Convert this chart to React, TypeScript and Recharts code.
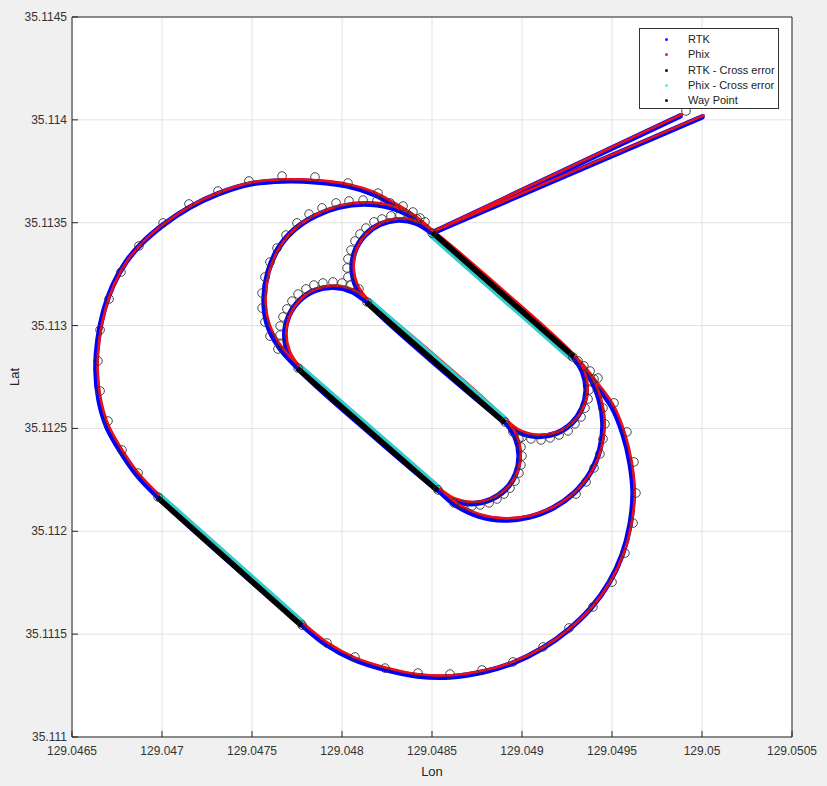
import React from 'react';
import { ComposedChart, Line, Scatter, XAxis, YAxis, CartesianGrid, ReferenceLine, Legend } from 'recharts';

const xTicks = [129.0465, 129.047, 129.0475, 129.048, 129.0485, 129.049, 129.0495, 129.05, 129.0505];
const xTickLabels = ['129.0465', '129.047', '129.0475', '129.048', '129.0485', '129.049', '129.0495', '129.05', '129.0505'];
const yTicks = [35.111, 35.1115, 35.112, 35.1125, 35.113, 35.1135, 35.114, 35.1145];
const yTickLabels = ['35.111', '35.1115', '35.112', '35.1125', '35.113', '35.1135', '35.114', '35.1145'];

type P = [number, number];

// RTK track: inbound leg, the looping run, outbound leg
const rtkEntry: P[] = [[129.050000, 35.114014], [129.048500, 35.113450]];
const rtkLoop: P[] = [
  [129.048500, 35.113450], [129.049283, 35.112847], [129.049338, 35.112772],
  [129.049356, 35.112684], [129.049333, 35.112597], [129.049275, 35.112524], [129.049189, 35.112476],
  [129.049088, 35.112461], [129.048989, 35.112480], [129.048906, 35.112531], [129.048139, 35.113115],
  [129.048079, 35.113188], [129.048056, 35.113276], [129.048073, 35.113364], [129.048128, 35.113440],
  [129.048212, 35.113492], [129.048312, 35.113513], [129.048413, 35.113498], [129.048500, 35.113450],
  [129.049283, 35.112847], [129.049372, 35.112755], [129.049428, 35.112643], [129.049450, 35.112522],
  [129.049433, 35.112400], [129.049378, 35.112283], [129.049289, 35.112186], [129.049172, 35.112113],
  [129.049039, 35.112069], [129.048900, 35.112055], [129.048761, 35.112074], [129.048639, 35.112123],
  [129.048533, 35.112201], [129.047756, 35.112794], [129.047700, 35.112870], [129.047682, 35.112960],
  [129.047705, 35.113048], [129.047764, 35.113122], [129.047851, 35.113171], [129.047953, 35.113186],
  [129.048054, 35.113166], [129.048139, 35.113115], [129.048906, 35.112531], [129.048963, 35.112456],
  [129.048984, 35.112367], [129.048965, 35.112279], [129.048908, 35.112203], [129.048823, 35.112153],
  [129.048721, 35.112134], [129.048620, 35.112151], [129.048533, 35.112201], [129.047756, 35.112794],
  [129.047650, 35.112896], [129.047583, 35.113013], [129.047567, 35.113134], [129.047589, 35.113260],
  [129.047644, 35.113372], [129.047733, 35.113465], [129.047850, 35.113533], [129.047983, 35.113576],
  [129.048122, 35.113591], [129.048261, 35.113576], [129.048389, 35.113528], [129.048500, 35.113450],
  [129.049283, 35.112847], [129.049356, 35.112774], [129.049422, 35.112701], [129.049500, 35.112604],
  [129.049561, 35.112473], [129.049600, 35.112332], [129.049617, 35.112186], [129.049600, 35.112031],
  [129.049556, 35.111885], [129.049483, 35.111749], [129.049383, 35.111627], [129.049256, 35.111520],
  [129.049117, 35.111433], [129.048950, 35.111360], [129.048783, 35.111316], [129.048600, 35.111292],
  [129.048417, 35.111297], [129.048228, 35.111331], [129.048061, 35.111379], [129.047917, 35.111447],
  [129.047778, 35.111544], [129.046978, 35.112167], [129.046861, 35.112274], [129.046772, 35.112385],
  [129.046694, 35.112507], [129.046650, 35.112638], [129.046633, 35.112784], [129.046644, 35.112930],
  [129.046678, 35.113076], [129.046728, 35.113197], [129.046800, 35.113309], [129.046889, 35.113401],
  [129.047006, 35.113489], [129.047156, 35.113576], [129.047311, 35.113640], [129.047489, 35.113688],
  [129.047672, 35.113703], [129.047861, 35.113698], [129.048028, 35.113679], [129.048172, 35.113640],
  [129.048278, 35.113591], [129.048378, 35.113538], [129.048444, 35.113494], [129.048500, 35.113450],
];
const rtkExit: P[] = [[129.048500, 35.113450], [129.049878, 35.114019]];

// Phix track: same three parts
const phixEntry: P[] = [[129.050009, 35.114022], [129.048509, 35.113458]];
const phixLoop: P[] = [
  [129.048509, 35.113458], [129.049292, 35.112855], [129.049347, 35.112780],
  [129.049365, 35.112692], [129.049342, 35.112605], [129.049284, 35.112532], [129.049198, 35.112484],
  [129.049097, 35.112469], [129.048998, 35.112488], [129.048915, 35.112539], [129.048148, 35.113123],
  [129.048088, 35.113196], [129.048065, 35.113284], [129.048082, 35.113372], [129.048137, 35.113448],
  [129.048221, 35.113500], [129.048321, 35.113521], [129.048422, 35.113506], [129.048509, 35.113458],
  [129.049292, 35.112855], [129.049381, 35.112763], [129.049437, 35.112651], [129.049459, 35.112530],
  [129.049442, 35.112408], [129.049387, 35.112291], [129.049298, 35.112194], [129.049181, 35.112121],
  [129.049048, 35.112077], [129.048909, 35.112063], [129.048770, 35.112082], [129.048648, 35.112131],
  [129.048542, 35.112209], [129.047765, 35.112802], [129.047709, 35.112878], [129.047691, 35.112968],
  [129.047714, 35.113056], [129.047773, 35.113130], [129.047860, 35.113179], [129.047962, 35.113194],
  [129.048063, 35.113174], [129.048148, 35.113123], [129.048915, 35.112539], [129.048972, 35.112464],
  [129.048993, 35.112375], [129.048974, 35.112287], [129.048917, 35.112211], [129.048832, 35.112161],
  [129.048730, 35.112142], [129.048629, 35.112159], [129.048542, 35.112209], [129.047765, 35.112802],
  [129.047659, 35.112904], [129.047592, 35.113021], [129.047576, 35.113142], [129.047598, 35.113268],
  [129.047653, 35.113380], [129.047742, 35.113473], [129.047859, 35.113541], [129.047992, 35.113584],
  [129.048131, 35.113599], [129.048270, 35.113584], [129.048398, 35.113536], [129.048509, 35.113458],
  [129.049292, 35.112855], [129.049365, 35.112782], [129.049431, 35.112709], [129.049509, 35.112612],
  [129.049570, 35.112481], [129.049609, 35.112340], [129.049626, 35.112194], [129.049609, 35.112039],
  [129.049565, 35.111893], [129.049492, 35.111757], [129.049392, 35.111635], [129.049265, 35.111528],
  [129.049126, 35.111441], [129.048959, 35.111368], [129.048792, 35.111324], [129.048609, 35.111300],
  [129.048426, 35.111305], [129.048237, 35.111339], [129.048070, 35.111387], [129.047926, 35.111455],
  [129.047787, 35.111552], [129.046987, 35.112175], [129.046870, 35.112282], [129.046781, 35.112393],
  [129.046703, 35.112515], [129.046659, 35.112646], [129.046642, 35.112792], [129.046653, 35.112938],
  [129.046687, 35.113084], [129.046737, 35.113205], [129.046809, 35.113317], [129.046898, 35.113409],
  [129.047015, 35.113497], [129.047165, 35.113584], [129.047320, 35.113648], [129.047498, 35.113696],
  [129.047681, 35.113711], [129.047870, 35.113706], [129.048037, 35.113687], [129.048181, 35.113648],
  [129.048287, 35.113599], [129.048387, 35.113546], [129.048453, 35.113502], [129.048509, 35.113458],
];
const phixExit: P[] = [[129.048509, 35.113458], [129.049887, 35.114027]];

const rtkCrossSegments: P[][] = [
  [[129.048500, 35.113450], [129.049283, 35.112847]],
  [[129.048139, 35.113115], [129.048906, 35.112531]],
  [[129.047756, 35.112794], [129.048533, 35.112201]],
  [[129.046978, 35.112167], [129.047778, 35.111544]],
];

const phixCrossSegments: P[][] = [
  [[129.048487, 35.113437], [129.049270, 35.112834]],
  [[129.048152, 35.113128], [129.048919, 35.112544]],
  [[129.047769, 35.112807], [129.048546, 35.112214]],
  [[129.046991, 35.112180], [129.047791, 35.111557]],
];

const wayPoints: P[] = [
  // outer loop, upper-left
  [129.046867, 35.112283], [129.046778, 35.112395], [129.046700, 35.112536], [129.046656, 35.112682],
  [129.046644, 35.112828], [129.046656, 35.112979], [129.046706, 35.113129], [129.046772, 35.113260],
  [129.046872, 35.113387], [129.047006, 35.113499], [129.047150, 35.113591], [129.047311, 35.113654],
  [129.047483, 35.113703], [129.047667, 35.113727], [129.047850, 35.113722], [129.048033, 35.113693],
  [129.048200, 35.113644], [129.048339, 35.113581], [129.048433, 35.113523],
  // outer loop, lower-right
  [129.047917, 35.111457], [129.048072, 35.111389], [129.048239, 35.111335], [129.048422, 35.111311],
  [129.048600, 35.111306], [129.048778, 35.111326], [129.048950, 35.111365], [129.049117, 35.111438],
  [129.049261, 35.111530], [129.049394, 35.111632], [129.049500, 35.111753], [129.049572, 35.111894],
  [129.049617, 35.112040], [129.049633, 35.112186], [129.049622, 35.112337], [129.049583, 35.112483],
  [129.049511, 35.112624], [129.049422, 35.112745],
  // medium loop, upper-left
  [129.048267, 35.113596], [129.048194, 35.113606], [129.048117, 35.113610], [129.048039, 35.113606],
  [129.047967, 35.113596], [129.047889, 35.113572], [129.047817, 35.113542], [129.047750, 35.113499],
  [129.047689, 35.113440], [129.047639, 35.113377], [129.047600, 35.113309], [129.047572, 35.113236],
  [129.047556, 35.113158], [129.047556, 35.113085], [129.047572, 35.113017], [129.047600, 35.112949],
  [129.047644, 35.112886],
  // inner loop, upper-left
  [129.048417, 35.113518], [129.048372, 35.113533], [129.048322, 35.113538], [129.048272, 35.113533],
  [129.048222, 35.113518], [129.048178, 35.113504], [129.048133, 35.113474], [129.048100, 35.113445],
  [129.048072, 35.113411], [129.048050, 35.113367], [129.048033, 35.113324], [129.048028, 35.113280],
  [129.048033, 35.113236], [129.048050, 35.113197],
  // middle loop, upper-left
  [129.048094, 35.113178], [129.048000, 35.113207], [129.047950, 35.113212], [129.047894, 35.113207],
  [129.047844, 35.113197], [129.047800, 35.113178], [129.047756, 35.113153], [129.047722, 35.113119],
  [129.047694, 35.113081], [129.047672, 35.113042], [129.047656, 35.112998], [129.047656, 35.112954],
  [129.047656, 35.112910],
  // inner loop, lower-right
  [129.049367, 35.112731], [129.049372, 35.112687], [129.049367, 35.112643], [129.049350, 35.112599],
  [129.049328, 35.112556], [129.049294, 35.112522], [129.049256, 35.112488], [129.049206, 35.112468],
  [129.049156, 35.112454], [129.049106, 35.112444], [129.049050, 35.112449], [129.049000, 35.112458],
  [129.048950, 35.112483],
  // middle loop, lower-right
  [129.048983, 35.112449], [129.048994, 35.112410], [129.049000, 35.112366], [129.048994, 35.112322],
  [129.048983, 35.112283], [129.048961, 35.112244], [129.048933, 35.112210], [129.048900, 35.112181],
  [129.048861, 35.112157], [129.048817, 35.112138], [129.048767, 35.112128], [129.048722, 35.112123],
  [129.048672, 35.112128], [129.048622, 35.112138],
  // medium loop, lower-right
  [129.049400, 35.112740], [129.049433, 35.112672], [129.049450, 35.112599], [129.049461, 35.112522],
  [129.049450, 35.112449], [129.049433, 35.112376], [129.049400, 35.112308], [129.049356, 35.112240],
  [129.049300, 35.112181],
  // junctions
  [129.048394, 35.113552], [129.048461, 35.113504], [129.049311, 35.112828], [129.049344, 35.112804],
  [129.049378, 35.112779],
  // straight ends and exit
  [129.048500, 35.113450], [129.049283, 35.112847], [129.048139, 35.113115], [129.048906, 35.112531],
  [129.047756, 35.112794], [129.048533, 35.112201], [129.046978, 35.112167], [129.047778, 35.111544],
  [129.049911, 35.114043],
];

const legendNames = ['RTK', 'Phix', 'RTK - Cross error', 'Phix - Cross error', 'Way Point'];
const legendColors = ['#1a1aff', '#e8203a', '#111111', '#66e6e6', '#111111'];

const FONT = '"Liberation Sans", Arial, Helvetica, sans-serif';

const toPts = (arr: P[]) => arr.map(([lon, lat]) => ({ lon, lat }));

// Centripetal Catmull-Rom curve factory (rendering only; passes through every data point)
const smoothCurve = (context: any) => {
  let pts: number[][] = [];
  const draw = () => {
    const n = pts.length;
    if (n === 0) return;
    context.moveTo(pts[0][0], pts[0][1]);
    for (let i = 0; i < n - 1; i++) {
      const p0 = i > 0 ? pts[i - 1] : null;
      const p1 = pts[i];
      const p2 = pts[i + 1];
      const p3 = i + 2 < n ? pts[i + 2] : null;
      const l12 = Math.hypot(p2[0] - p1[0], p2[1] - p1[1]);
      const l12a = Math.sqrt(l12);
      let c1x = p1[0];
      let c1y = p1[1];
      let c2x = p2[0];
      let c2y = p2[1];
      if (p0) {
        const l01 = Math.hypot(p1[0] - p0[0], p1[1] - p0[1]);
        const l01a = Math.sqrt(l01);
        if (l01a > 1e-6) {
          const a = 2 * l01 + 3 * l01a * l12a + l12;
          const nn = 3 * l01a * (l01a + l12a);
          c1x = (p1[0] * a - p0[0] * l12 + p2[0] * l01) / nn;
          c1y = (p1[1] * a - p0[1] * l12 + p2[1] * l01) / nn;
        }
      }
      if (p3) {
        const l23 = Math.hypot(p3[0] - p2[0], p3[1] - p2[1]);
        const l23a = Math.sqrt(l23);
        if (l23a > 1e-6) {
          const b = 2 * l23 + 3 * l23a * l12a + l12;
          const m = 3 * l23a * (l23a + l12a);
          c2x = (p2[0] * b + p1[0] * l23 - p3[0] * l12) / m;
          c2y = (p2[1] * b + p1[1] * l23 - p3[1] * l12) / m;
        }
      }
      context.bezierCurveTo(c1x, c1y, c2x, c2y, p2[0], p2[1]);
    }
  };
  return {
    areaStart() {},
    areaEnd() {},
    lineStart() {
      pts = [];
    },
    lineEnd() {
      draw();
      pts = [];
    },
    point(x: number, y: number) {
      pts.push([+x, +y]);
    },
  };
};

const rtkParts = [rtkEntry, rtkLoop, rtkExit];
const phixParts = [phixEntry, phixLoop, phixExit];

const XTick = (props: any) => {
  const { x, y, payload } = props;
  const i = xTicks.findIndex((t) => Math.abs(t - payload.value) < 1e-9);
  return (
    <g>
      <line x1={x} x2={x} y1={y} y2={y - 6} stroke="#262626" strokeWidth={1} />
      <text x={x} y={y + 18} textAnchor="middle" fontSize={12} fill="#333" fontFamily={FONT}>
        {xTickLabels[i]}
      </text>
    </g>
  );
};

const YTick = (props: any) => {
  const { x, y, payload } = props;
  const i = yTicks.findIndex((t) => Math.abs(t - payload.value) < 1e-9);
  return (
    <g>
      <line x1={x} x2={x + 6} y1={y} y2={y} stroke="#262626" strokeWidth={1} />
      <text x={x - 5} y={y + 4} textAnchor="end" fontSize={12} fill="#333" fontFamily={FONT}>
        {yTickLabels[i]}
      </text>
    </g>
  );
};

const WayPointShape = (props: any) => (
  <circle cx={props.cx} cy={props.cy} r={4.3} fill="none" stroke="#333333" strokeWidth={0.9} />
);

const LegendBox = () => (
  <div
    style={{
      width: 140,
      height: 81,
      background: '#fff',
      border: '1px solid #333',
      boxSizing: 'border-box',
      position: 'relative',
      fontFamily: FONT,
      fontSize: 11,
      color: '#222',
    }}
  >
    {legendNames.map((name, i) => (
      <div key={name} style={{ position: 'absolute', left: 0, top: 3 + i * 15.3, height: 15, width: 138 }}>
        <span
          style={{
            position: 'absolute',
            left: 25,
            top: 6,
            width: 3,
            height: 3,
            borderRadius: '50%',
            background: legendColors[i],
          }}
        />
        <span style={{ position: 'absolute', left: 48, top: 0, lineHeight: '15px', whiteSpace: 'nowrap' }}>{name}</span>
      </div>
    ))}
  </div>
);

export default function App() {
  return (
    <div style={{ position: 'absolute', left: 0, top: 0, width: 827, height: 786, background: '#f0f0f0', fontFamily: FONT }}>
      <ComposedChart width={827} height={786} margin={{ top: 17, right: 35, bottom: 0, left: 0 }}>
        <CartesianGrid fill="#ffffff" stroke="#e2e2e2" />
        <XAxis
          type="number"
          dataKey="lon"
          domain={[129.0465, 129.0505]}
          ticks={xTicks}
          interval={0}
          allowDataOverflow
          height={49}
          tickSize={0}
          tickMargin={0}
          tickLine={false}
          axisLine={{ stroke: '#262626' }}
          tick={<XTick />}
          label={{ value: 'Lon', position: 'insideBottom', offset: 10, fill: '#262626', fontSize: 13 }}
        />
        <YAxis
          type="number"
          dataKey="lat"
          domain={[35.111, 35.1145]}
          ticks={yTicks}
          interval={0}
          allowDataOverflow
          width={72}
          tickSize={0}
          tickMargin={0}
          tickLine={false}
          axisLine={{ stroke: '#262626' }}
          tick={<YTick />}
          label={{ value: 'Lat', angle: -90, position: 'insideLeft', offset: 14, fill: '#262626', fontSize: 13, style: { textAnchor: 'middle' } }}
        />
        <ReferenceLine x={129.0505} stroke="#262626" ifOverflow="visible" />
        <ReferenceLine y={35.1145} stroke="#262626" ifOverflow="visible" />
        {rtkParts.map((part, i) => (
          <Line
            key={'rtk' + i}
            data={toPts(part)}
            dataKey="lat"
            name="RTK"
            stroke="#0000ff"
            strokeWidth={5.5}
            dot={false}
            activeDot={false}
            isAnimationActive={false}
            strokeLinejoin="round"
            strokeLinecap="round"
            type={smoothCurve as any}
          />
        ))}
        {phixParts.map((part, i) => (
          <Line
            key={'phix' + i}
            data={toPts(part)}
            dataKey="lat"
            name="Phix"
            stroke="#ee1010"
            strokeWidth={2.6}
            dot={false}
            activeDot={false}
            isAnimationActive={false}
            strokeLinejoin="round"
            strokeLinecap="round"
            type={smoothCurve as any}
          />
        ))}
        {rtkCrossSegments.map((seg, i) => (
          <Line
            key={'rc' + i}
            data={toPts(seg)}
            dataKey="lat"
            stroke="#000000"
            strokeWidth={7}
            dot={false}
            activeDot={false}
            isAnimationActive={false}
            type="linear"
          />
        ))}
        {phixCrossSegments.map((seg, i) => (
          <Line
            key={'pc' + i}
            data={toPts(seg)}
            dataKey="lat"
            stroke="#33cccc"
            strokeWidth={3}
            dot={false}
            activeDot={false}
            isAnimationActive={false}
            type="linear"
          />
        ))}
        <Scatter data={toPts(wayPoints)} dataKey="lat" shape={<WayPointShape />} isAnimationActive={false} />
        <Legend
          layout="horizontal"
          verticalAlign="middle"
          align="center"
          content={<LegendBox />}
          wrapperStyle={{ left: 639, top: 28, width: 140, height: 81 }}
        />
      </ComposedChart>
    </div>
  );
}
